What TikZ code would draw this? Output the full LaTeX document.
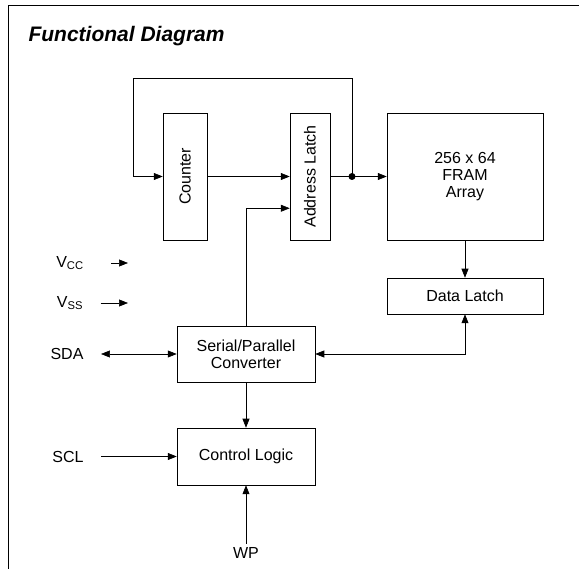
\documentclass[tikz,border=0pt]{standalone}
\usepackage{fontspec}
\setmainfont{Liberation Sans}
\usetikzlibrary{arrows.meta,positioning}

\begin{document}
\begin{tikzpicture}[x=1pt,y=-1pt,>={Triangle[length=9pt,width=7pt]},
  blk/.style={draw,line width=0.5pt,inner sep=0pt,align=center,font=\fontsize{16}{17}\selectfont},
  pinlbl/.style={font=\fontsize{16}{17}\selectfont},
  wire/.style={line width=0.6pt}]
  \useasboundingbox (0,0) rectangle (579,569);
  % frame and heading
  \draw[line width=0.8pt] (579,5) -- (8,5) -- (8,569);
  \node (title) [anchor=base west,font=\fontsize{21}{23}\selectfont\bfseries\itshape] at (25,42) {Functional Diagram};
  % blocks
  \node (cnt) [blk,minimum width=44pt,minimum height=127pt] at (185,176.5) {\rotatebox{90}{Counter}};
  \node (alatch) [blk,minimum width=40pt,minimum height=127pt] at (310,176.5) {\rotatebox{90}{Address Latch}};
  \node (arr) [blk,minimum width=156pt,minimum height=127pt] at (465,176.5) {256 x 64\\FRAM\\Array};
  \node (dlatch) [blk,minimum width=156pt,minimum height=36pt] at (465,296) {Data Latch};
  \node (conv) [blk,minimum width=138pt,minimum height=56pt] at (246,354) {Serial/Parallel\\Converter};
  \node (ctrl) [blk,minimum width=138pt,minimum height=57pt] at (246,456.5) {Control Logic};
  % pins
  \node (vcc) [pinlbl] at (70,263) {V\textsubscript{CC}};
  \node (vss) [pinlbl] at (70,303) {V\textsubscript{SS}};
  \node (sda) [pinlbl] at (67,354) {SDA};
  \node (scl) [pinlbl] at (68,456.5) {SCL};
  \node (wp) [pinlbl] at (246,553) {WP};
  \coordinate (vccin) at (128,263);
  \coordinate (vssin) at (128,303);
  \coordinate (junc) at (352,176.5);
  \coordinate (fbtop) at (133,78);
  % connections
  \draw[wire,->] (cnt.east) -- (alatch.west);
  \draw[wire,->] (alatch.east) -- (arr.west);
  \fill (junc) circle (3.5pt);
  \draw[wire,->] (junc) |- (fbtop) |- (cnt.west);
  \draw[wire,->] (conv.north) |- ([yshift=32pt]alatch.south west);
  \draw[wire,->] (arr.south) -- (dlatch.north);
  \draw[wire,<->] (conv.east) -| (dlatch.south);
  \draw[wire,->] (conv.south) -- (ctrl.north);
  \draw[wire,->] (wp.north) -- (ctrl.south);
  \draw[wire,->,shorten <=24pt] (vcc.east) -- (vccin);
  \draw[wire,->,shorten <=14pt] (vss.east) -- (vssin);
  \draw[wire,<->,shorten <=14pt] (sda.east) -- (conv.west);
  \draw[wire,->,shorten <=14pt] (scl.east) -- (ctrl.west);
\end{tikzpicture}
\end{document}
